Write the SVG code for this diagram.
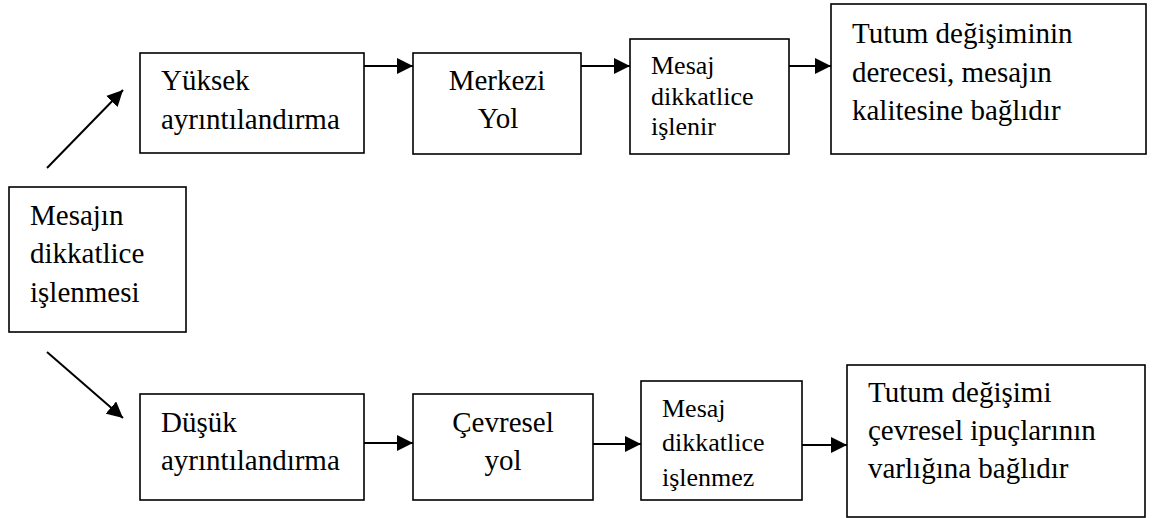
<svg xmlns="http://www.w3.org/2000/svg" width="1153" height="518" viewBox="0 0 1153 518">
  <style>
    .box { fill: #ffffff; stroke: #000000; stroke-width: 1.6; }
    .lbl { font-family: 'Liberation Serif', Tinos, 'DejaVu Serif', serif; font-size: 29px; fill: #000000; }
    .sm { font-size: 26px; }
    .mid { text-anchor: middle; }
    .conn { stroke: #000000; stroke-width: 2; fill: none; marker-end: url(#head); }
  </style>
  <defs>
    <marker id="head" markerUnits="userSpaceOnUse" markerWidth="16" markerHeight="16" viewBox="0 0 16 16" refX="16" refY="8" orient="auto">
      <path d="M0,0 L16,8 L0,16 Z" fill="#000000"/>
    </marker>
  </defs>
  <rect width="1153" height="518" fill="#ffffff"/>

  <!-- connectors -->
  <g id="connectors">
    <line class="conn" x1="47" y1="168" x2="123" y2="90"/>
    <line class="conn" x1="47" y1="352" x2="123" y2="418"/>
    <line class="conn" x1="364" y1="66" x2="413" y2="66"/>
    <line class="conn" x1="581" y1="66" x2="630" y2="66"/>
    <line class="conn" x1="789" y1="66" x2="831" y2="66"/>
    <line class="conn" x1="364" y1="443" x2="413" y2="443"/>
    <line class="conn" x1="593" y1="444" x2="641" y2="444"/>
    <line class="conn" x1="802" y1="445" x2="847" y2="445"/>
  </g>

  <g id="start">
    <rect class="box" x="9" y="187" width="177" height="145"/>
    <text class="lbl" font-family="Liberation Serif, serif" x="30" y="225">Mesajın</text>
    <text class="lbl" x="30" y="263">dikkatlice</text>
    <text class="lbl" x="30" y="302">işlenmesi</text>
  </g>

  <!-- high elaboration route -->
  <g id="high">
    <rect class="box" x="140" y="53" width="224" height="100"/>
    <text class="lbl" x="161" y="90">Yüksek</text>
    <text class="lbl" x="161" y="129">ayrıntılandırma</text>
  </g>
  <g id="central">
    <rect class="box" x="413" y="53" width="168" height="101"/>
    <text class="lbl mid" x="497" y="90">Merkezi</text>
    <text class="lbl mid" x="498" y="128">Yol</text>
  </g>
  <g id="processed">
    <rect class="box" x="630" y="39" width="159" height="115"/>
    <text class="lbl sm" x="651" y="74">Mesaj</text>
    <text class="lbl sm" x="651" y="105">dikkatlice</text>
    <text class="lbl sm" x="651" y="135">işlenir</text>
  </g>
  <g id="quality">
    <rect class="box" x="831" y="4" width="315" height="150"/>
    <text class="lbl" x="852" y="43">Tutum değişiminin</text>
    <text class="lbl" x="852" y="82">derecesi, mesajın</text>
    <text class="lbl" x="852" y="120">kalitesine bağlıdır</text>
  </g>

  <!-- low elaboration route -->
  <g id="low">
    <rect class="box" x="140" y="394" width="224" height="106"/>
    <text class="lbl" x="161" y="432">Düşük</text>
    <text class="lbl" x="161" y="470">ayrıntılandırma</text>
  </g>
  <g id="peripheral">
    <rect class="box" x="413" y="394" width="180" height="106"/>
    <text class="lbl mid" x="503" y="432">Çevresel</text>
    <text class="lbl mid" x="503" y="470">yol</text>
  </g>
  <g id="not-processed">
    <rect class="box" x="641" y="381" width="161" height="119"/>
    <text class="lbl sm" x="662" y="417">Mesaj</text>
    <text class="lbl sm" x="662" y="451">dikkatlice</text>
    <text class="lbl sm" x="662" y="486">işlenmez</text>
  </g>
  <g id="cues">
    <rect class="box" x="847" y="365" width="298" height="152"/>
    <text class="lbl" x="868" y="402">Tutum değişimi</text>
    <text class="lbl" x="868" y="440">çevresel ipuçlarının</text>
    <text class="lbl" x="868" y="478">varlığına bağlıdır</text>
  </g>
</svg>
